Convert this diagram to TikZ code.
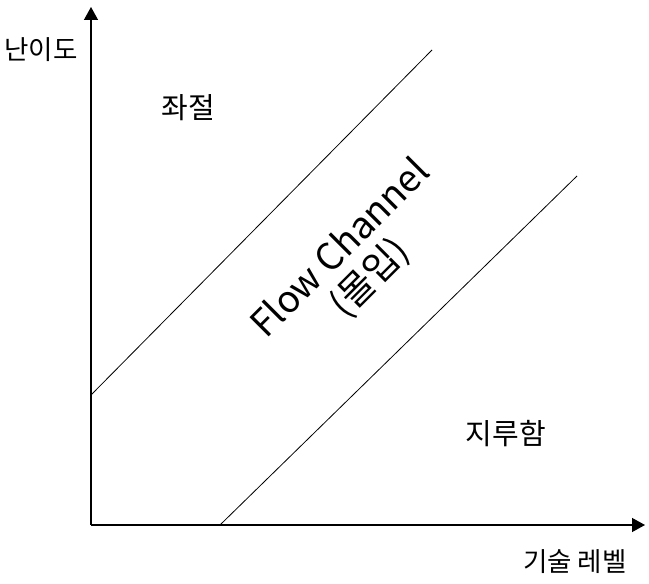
\documentclass[tikz,border=0pt]{standalone}
\usepackage{fontspec}
\setmainfont{Noto Sans CJK KR}
\usetikzlibrary{arrows.meta}
\tikzset{
  axis/.style={line width=1.3pt,-{Triangle[length=13pt,width=14pt]}},
  boundary/.style={line width=0.8pt},
  lbl/.style={font=\fontsize{29}{34}\selectfont, inner sep=0pt},
  axlbl/.style={font=\fontsize{26.5}{32}\selectfont, inner sep=0pt},
}
\begin{document}
\begin{tikzpicture}[x=1pt,y=1pt]
\useasboundingbox (0,0) rectangle (649,584);
\coordinate (O) at (91,59);
\coordinate (ytip) at (91,577);
\coordinate (xtip) at (645,59);
\coordinate (u1) at (91,189);
\coordinate (u2) at (432,534);
\coordinate (l1) at (220,59);
\coordinate (l2) at (577,408);
\draw[axis] (O) -- (ytip);
\draw[axis] (O) -- (xtip);
\draw[boundary] (u1) -- (u2);
\draw[boundary] (l1) -- (l2);
\node[axlbl] (ylab) at (41,534) {난이도};
\node[lbl] (frus) at (188,476) {좌절};
\node[lbl] (bore) at (506,150) {지루함};
\node[axlbl] (xlab) at (575,22) {기술 레벨};
\node[lbl, font=\fontsize{37}{42}\selectfont, align=center, rotate=45] (flow) at (356,320) {Flow Channel\\(몰입)};
\end{tikzpicture}
\end{document}
